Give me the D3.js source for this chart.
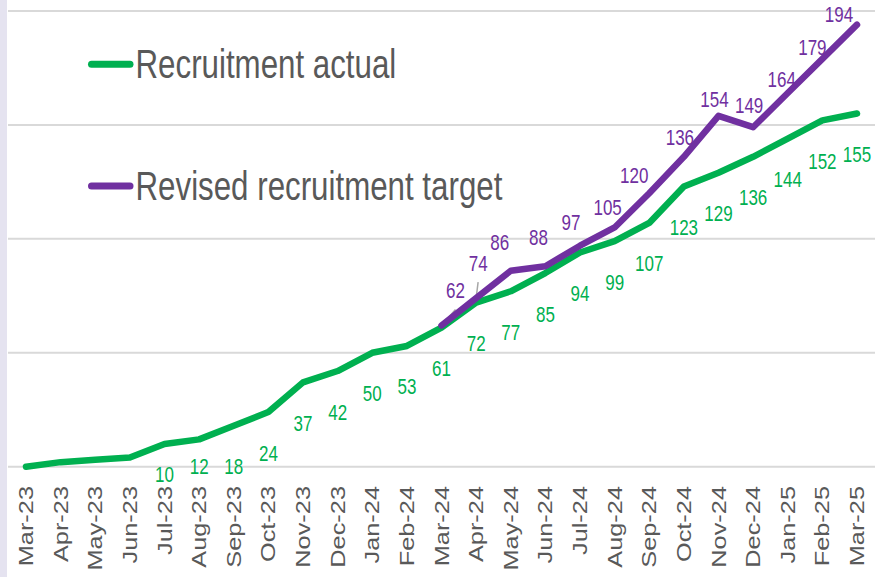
<!DOCTYPE html>
<html>
<head>
<meta charset="utf-8">
<script src="https://cdn.jsdelivr.net/npm/d3@7"></script>
<style>
  body { margin: 0; background: #ffffff; }
  svg { display: block; }
  text { font-family: "Liberation Sans", Arial, sans-serif; }
</style>
</head>
<body>
<div id="chart"></div>
<script>

// months on the x axis
var months = ["Mar-23", "Apr-23", "May-23", "Jun-23", "Jul-23", "Aug-23", "Sep-23", "Oct-23",
	"Nov-23", "Dec-23", "Jan-24", "Feb-24", "Mar-24", "Apr-24", "May-24", "Jun-24", "Jul-24",
	"Aug-24", "Sep-24", "Oct-24", "Nov-24", "Dec-24", "Jan-25", "Feb-25", "Mar-25"]

// Recruitment actual (first four points carry no label in the source)
var actual = [0, 2, 3, 4, 10, 12, 18, 24, 37, 42, 50, 53, 61, 72, 77, 85, 94, 99, 107, 123, 129, 136, 144, 152, 155]
var actual_label_from = 4

// Revised recruitment target, starts at Mar-24
var target = [null, null, null, null, null, null, null, null, null, null, null, null,
	62, 74, 86, 88, 97, 105, 120, 136, 154, 149, 164, 179, 194]

var y_ticks = [0, 50, 100, 150, 200]

var series_names = ["Recruitment actual", "Revised recruitment target"]
var green = "#00b050"
var purple = "#7030a0"
var grey_text = "#595959"

// hand placed labels in the source (dx, dy from the point)
var actual_label_nudge = {4: -10, 5: -14}
var target_label_nudge = [[14, -27], [2, -27], [-11, -21], [-7, -21], [-9, -16], [-7, -12],
	[-15, -10], [-4, -12], [-4, -9], [-4, -14], [-6, -6], [-10, -4], [-18, -3]]
var target_leaders = [0, 1]

var width = 875
var height = 577
var stretch = 1.3   // the source picture is stretched vertically

var svg = d3.select("#chart").append("svg")
	.attr("width", width)
	.attr("height", height)

svg.append("rect")
	.attr("x", 0).attr("y", 0)
	.attr("width", width).attr("height", height)
	.attr("fill", "#ffffff")

svg.append("rect")
	.attr("x", 0).attr("y", 0)
	.attr("width", 7).attr("height", height)
	.attr("fill", "#e5e3f0")

var x = d3.scalePoint().domain(months).range([26, 857])
var y = d3.scaleLinear().domain([0, 200]).range([466.7, 11])

// gridlines
svg.selectAll(".grid")
	.data(y_ticks)
	.enter()
	.append("line")
	.attr("class", "grid")
	.attr("x1", 8)
	.attr("x2", width)
	.attr("y1", function(d) {return y(d)})
	.attr("y2", function(d) {return y(d)})
	.style("stroke", "#d9d9d9")
	.style("stroke-width", 2)

// x axis labels
svg.selectAll(".month_label")
	.data(months)
	.enter()
	.append("text")
	.attr("class", "month_label")
	.attr("transform", function(d) {
		return "translate(" + (x(d) + 7) + "," + 486 + ") scale(1," + stretch + ") rotate(-90)"
	})
	.attr("text-anchor", "end")
	.style("font-size", "19.5px")
	.style("fill", grey_text)
	.text(function(d) {return d})

// leader lines for the moved target labels
svg.selectAll(".leader")
	.data(target_leaders)
	.enter()
	.append("line")
	.attr("class", "leader")
	.attr("x1", function(k) {return x(months[12 + k])})
	.attr("y1", function(k) {return y(target[12 + k])})
	.attr("x2", function(k) {return x(months[12 + k]) + target_label_nudge[k][0]})
	.attr("y2", function(k) {return y(target[12 + k]) + target_label_nudge[k][1] + 11})
	.style("stroke", "#a6a6a6")
	.style("stroke-width", 1.5)

var line = d3.line()
	.defined(function(d) {return d != null})
	.x(function(d, i) {return x(months[i])})
	.y(function(d) {return y(d)})

svg.append("path")
	.datum(actual)
	.attr("d", line)
	.attr("fill", "none")
	.style("stroke", green)
	.style("stroke-width", 6.5)
	.style("stroke-linejoin", "round")
	.style("stroke-linecap", "round")

svg.append("path")
	.datum(target)
	.attr("d", line)
	.attr("fill", "none")
	.style("stroke", purple)
	.style("stroke-width", 6.5)
	.style("stroke-linejoin", "round")
	.style("stroke-linecap", "round")

// data labels, actual (below the line)
var actual_labels = actual.map(function(v, i) {return [v, i]}).filter(function(d) {return d[1] >= actual_label_from})

svg.selectAll(".actual_label")
	.data(actual_labels)
	.enter()
	.append("text")
	.attr("class", "actual_label")
	.attr("transform", function(d) {
		var dy = 48.5 + (actual_label_nudge[d[1]] || 0)
		return "translate(" + x(months[d[1]]) + "," + (y(d[0]) + dy) + ") scale(1," + stretch + ")"
	})
	.attr("text-anchor", "middle")
	.style("font-size", "17px")
	.style("fill", green)
	.text(function(d) {return d[0]})

// data labels, target (above the line)
var target_labels = target.map(function(v, i) {return [v, i]}).filter(function(d) {return d[0] != null})

svg.selectAll(".target_label")
	.data(target_labels)
	.enter()
	.append("text")
	.attr("class", "target_label")
	.attr("transform", function(d, k) {
		var n = target_label_nudge[k]
		return "translate(" + (x(months[d[1]]) + n[0]) + "," + (y(d[0]) + n[1]) + ") scale(1," + stretch + ")"
	})
	.attr("text-anchor", "middle")
	.style("font-size", "17px")
	.style("fill", purple)
	.text(function(d) {return d[0]})

// legend
var legend = svg.selectAll(".legend")
	.data([[series_names[0], green, 64.3, 78.3], [series_names[1], purple, 186, 200]])
	.enter()
	.append("g")
	.attr("class", "legend")

legend.append("line")
	.attr("x1", 91.5)
	.attr("x2", 130)
	.attr("y1", function(d) {return d[2]})
	.attr("y2", function(d) {return d[2]})
	.style("stroke", function(d) {return d[1]})
	.style("stroke-width", 7)
	.style("stroke-linecap", "round")

legend.append("text")
	.attr("transform", function(d) {return "translate(135.5," + d[3] + ") scale(1," + stretch + ")"})
	.style("font-size", "31.3px")
	.style("fill", grey_text)
	.text(function(d) {return d[0]})

</script>
</body>
</html>
